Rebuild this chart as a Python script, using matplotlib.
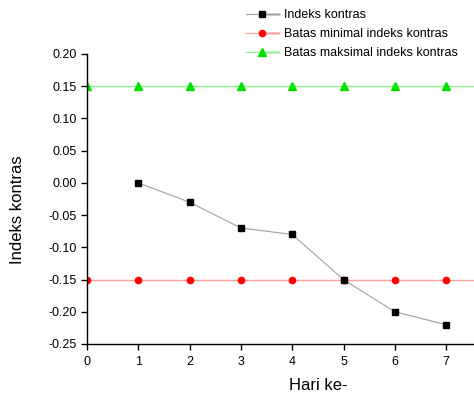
import matplotlib
matplotlib.use("Agg")
import matplotlib.pyplot as plt
from matplotlib.lines import Line2D
from matplotlib.legend_handler import HandlerLine2D

days = [1, 2, 3, 4, 5, 6, 7]
indeks = [0.00, -0.03, -0.07, -0.08, -0.15, -0.20, -0.22]
batas_days = [0, 1, 2, 3, 4, 5, 6, 7]
batas_min = [-0.15] * 8
batas_max = [0.15] * 8
xticks = [0, 1, 2, 3, 4, 5, 6, 7]
yticks = [-0.25, -0.20, -0.15, -0.10, -0.05, 0.00, 0.05, 0.10, 0.15, 0.20]

plt.rcParams['font.family'] = ['Liberation Sans', 'DejaVu Sans']


class SplitHandler(HandlerLine2D):
    def __init__(self, dark, **kw):
        super().__init__(**kw)
        self.dark = dark

    def create_artists(self, legend, orig_handle, xdescent, ydescent, width,
                       height, fontsize, trans):
        arts = super().create_artists(legend, orig_handle, xdescent, ydescent,
                                      width, height, fontsize, trans)
        y = height / 2.0 - ydescent
        xm = -xdescent + width / 2.0 + 3
        xe = -xdescent + width
        dl = Line2D([xm, xe], [y, y], color=self.dark, lw=1.0)
        dl.set_transform(trans)
        return [dl] + list(arts)


fig = plt.figure(figsize=(4.74, 3.96), dpi=100)
ax = fig.add_axes([87/474, 52/396, 387/474, 290/396])

ax.axhline(0.15, color='#90f090', lw=0.9, zorder=1)
ax.axhline(-0.15, color='#ffa0a0', lw=0.9, zorder=1)
h1, = ax.plot(days, indeks, color='#a0a0a0', lw=0.8, marker='s', ms=4.3,
              mfc='black', mec='black', label='Indeks kontras', zorder=3)
h2, = ax.plot(batas_days, batas_min, color='#ffa0a0', lw=0.9, marker='o', ms=4.5,
              mfc='red', mec='red', label='Batas minimal indeks kontras', zorder=2)
h3, = ax.plot(batas_days, batas_max, color='#90f090', lw=0.9, marker='^', ms=5.5,
              mfc='#00e000', mec='#00e000', label='Batas maksimal indeks kontras', zorder=2)

ax.set_xlim(0, 387/51.3)
ax.set_ylim(-0.25, 0.20)
ax.set_xticks(xticks)
ax.set_yticks(yticks)
ax.set_yticklabels([f"{v:.2f}" for v in yticks])
for s in ['top', 'right']:
    ax.spines[s].set_visible(False)
ax.spines['left'].set_linewidth(1.0)
ax.spines['bottom'].set_linewidth(1.0)
ax.tick_params(direction='out', length=4.3, width=1, labelsize=9)
ax.tick_params(axis='x', pad=4)
ax.tick_params(axis='y', pad=3)

ax.set_xlabel('Hari ke-', fontsize=12)
ax.xaxis.set_label_coords((318-87)/387, (344-378)/290)
ax.set_ylabel('Indeks kontras', fontsize=12)
ax.yaxis.set_label_coords((25-87)/387, (344-210)/290)

fig.legend(handles=[h1, h2, h3], loc='upper left',
           bbox_to_anchor=(246/474, 1 - 9/396), frameon=False,
           fontsize=9, handlelength=2.6, handletextpad=0.45, labelspacing=0.58,
           borderaxespad=0, borderpad=0,
           handler_map={h1: SplitHandler('black'), h2: SplitHandler('red'),
                        h3: SplitHandler('#00e000')})

fig.savefig('out.png', dpi=100)
